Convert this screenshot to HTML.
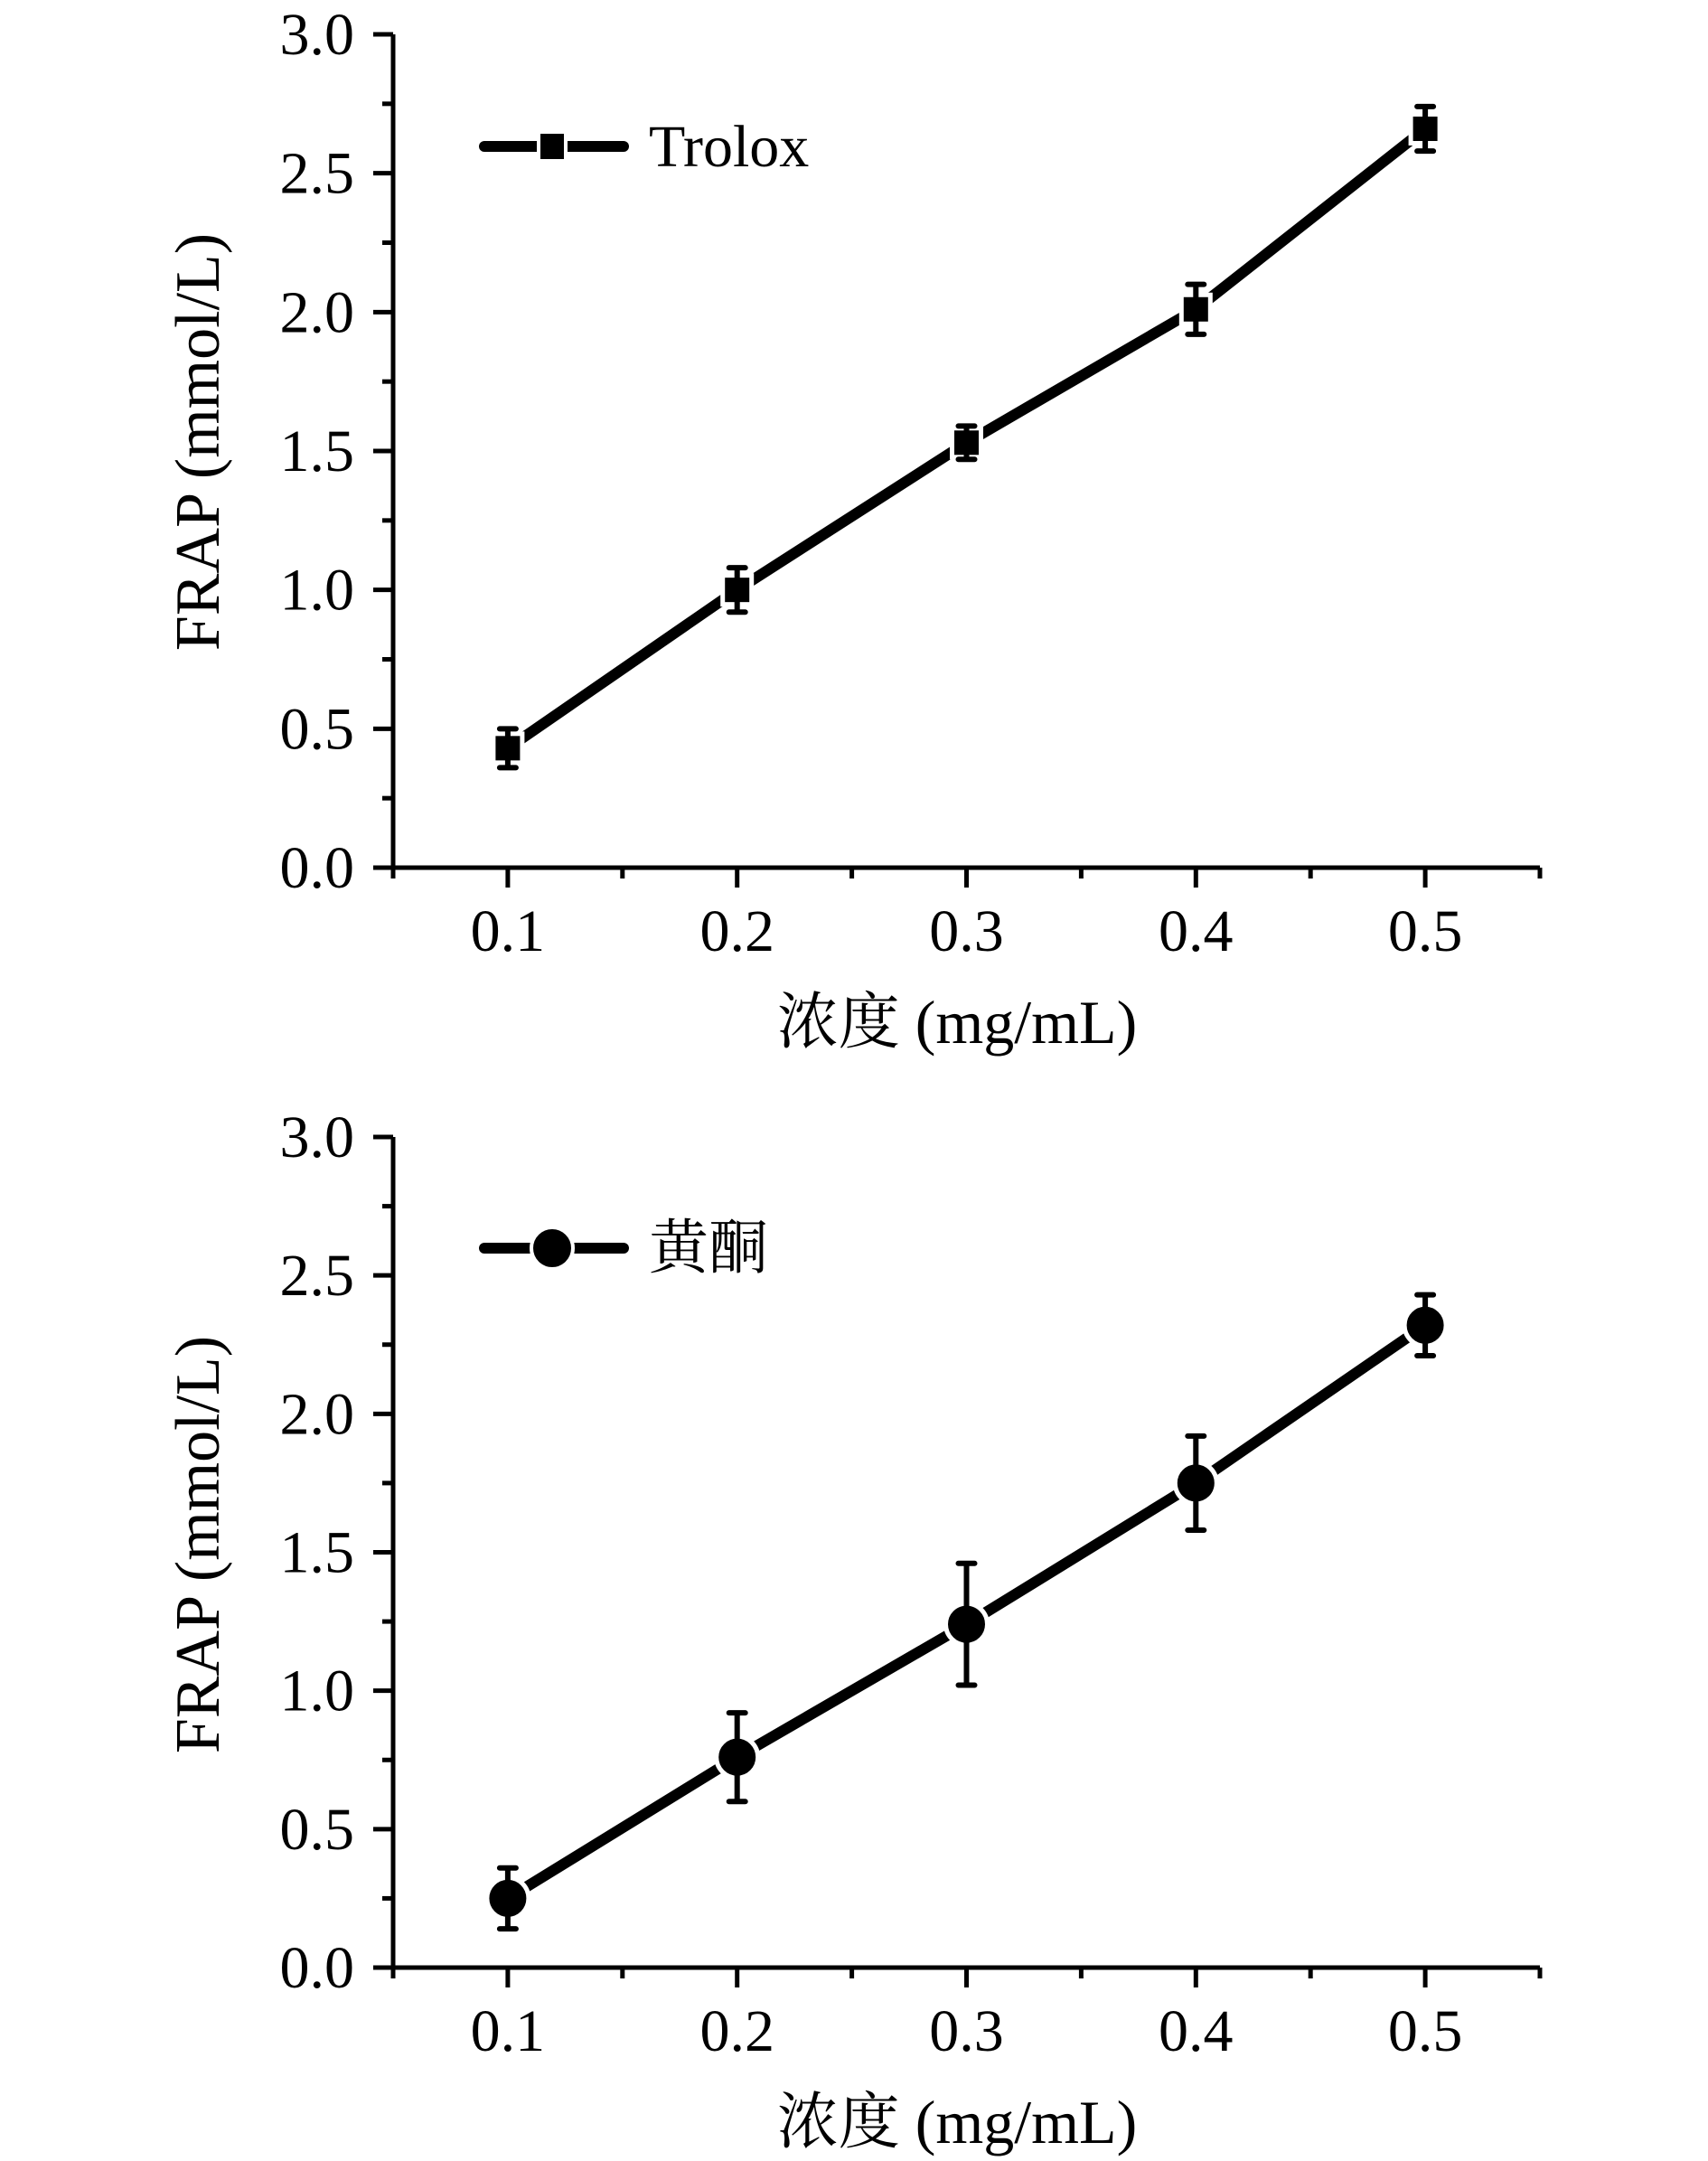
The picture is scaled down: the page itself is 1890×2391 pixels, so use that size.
<!DOCTYPE html>
<html><head><meta charset="utf-8">
<style>
html,body{margin:0;padding:0;background:#fff;}
svg{display:block;}
text{font-family:"Liberation Serif","Noto Serif CJK SC",serif;fill:#000;}
</style></head>
<body>
<svg id="chart" width="1890" height="2391" viewBox="0 0 1890 2391"></svg>
<script>
const categories = [0.1, 0.2, 0.3, 0.4, 0.5];
const xTickLabels = ["0.1", "0.2", "0.3", "0.4", "0.5"];
const yTickLabels = ["0.0", "0.5", "1.0", "1.5", "2.0", "2.5", "3.0"];
const troloxValues = [0.43, 1.00, 1.53, 2.01, 2.66];
const troloxErrors = [0.07, 0.08, 0.06, 0.09, 0.08];
const flavoneValues = [0.25, 0.76, 1.24, 1.75, 2.32];
const flavoneErrors = [0.11, 0.16, 0.22, 0.17, 0.11];

const NS = "http://www.w3.org/2000/svg";
const svg = document.getElementById("chart");
function mk(tag, attrs, parent) {
  const e = document.createElementNS(NS, tag);
  for (const k in attrs) e.setAttribute(k, attrs[k]);
  (parent || svg).appendChild(e);
  return e;
}

function drawPanel(cfg) {
  const g = mk("g", {});
  
  
  const x0 = 435, x1 = 1704, xmin = 0.05, xmax = 0.55;
  const yTop = cfg.yTop, yBot = cfg.yBot;
  const X = v => x0 + (v - xmin) / (xmax - xmin) * (x1 - x0);
  const Y = v => yBot - v / 3 * (yBot - yTop);

  const ax = mk("path", {d: `M${x0} ${yTop} V${yBot} H${x1}`, stroke: "#000", "stroke-width": 5, fill: "none"}, g);
  
  

  for (let i = 0; i <= 12; i++) {
    const v = i * 0.25, y = Y(v), major = i % 2 === 0;
    mk("line", {x1: x0 - (major ? 22 : 12), x2: x0, y1: y, y2: y, stroke: "#000", "stroke-width": 5}, g);
  }
  yTickLabels.forEach((t, i) => {
    const tx = mk("text", {x: 392, y: Y(i * 0.5) + 22, "font-size": 66, "text-anchor": "end"}, g);
    tx.textContent = t;
    
    
  });
  for (let i = 0; i <= 10; i++) {
    const v = 0.05 + i * 0.05, x = X(v), major = i % 2 === 1;
    mk("line", {x1: x, x2: x, y1: yBot, y2: yBot + (major ? 22 : 12), stroke: "#000", "stroke-width": 5}, g);
  }
  xTickLabels.forEach((t, i) => {
    const tx = mk("text", {x: X(categories[i]), y: yBot + 92, "font-size": 66, "text-anchor": "middle"}, g);
    tx.textContent = t;
    
    
  });
  const xt = mk("text", {x: 1059, y: yBot + 194, "font-size": 68, "text-anchor": "middle"}, g);
  xt.textContent = "浓度 (mg/mL)";
  
  
  const yt = mk("text", {x: 0, y: 0, "font-size": 70, "text-anchor": "middle", transform: `translate(242 ${cfg.yTitleC}) rotate(-90)`}, g);
  yt.textContent = "FRAP (mmol/L)";
  
  

  const pts = categories.map((c, i) => `${X(c)},${Y(cfg.values[i])}`).join(" ");
  const ln = mk("polyline", {points: pts, stroke: "#000", "stroke-width": 12, fill: "none", "stroke-linejoin": "round"}, g);
  
  

  categories.forEach((c, i) => {
    const cx = X(c), cy = Y(cfg.values[i]);
    let m;
    if (cfg.marker === "square") {
      m = mk("rect", {x: cx - 16, y: cy - 16, width: 32, height: 32, fill: "#000", stroke: "#fff", "stroke-width": 5}, g);
    } else {
      m = mk("circle", {cx: cx, cy: cy, r: 23, fill: "#000", stroke: "#fff", "stroke-width": 5}, g);
    }
    
    
    const e = cfg.errors[i], yh = Y(cfg.values[i] + e), yl = Y(cfg.values[i] - e);
    const eb = mk("path", {d: `M${cx} ${yh} V${yl} M${cx - 9} ${yh} H${cx + 9} M${cx - 9} ${yl} H${cx + 9}`, stroke: "#000", "stroke-width": 6, "stroke-linecap": "round", fill: "none"}, g);
    
    
  });

  const lg = mk("g", {}, g);
  
  
  const ly = cfg.legendY;
  mk("line", {x1: 536, x2: 690, y1: ly, y2: ly, stroke: "#000", "stroke-width": 12, "stroke-linecap": "round"}, lg);
  if (cfg.marker === "square") {
    mk("rect", {x: 596, y: ly - 16, width: 30, height: 32, fill: "#000", stroke: "#fff", "stroke-width": 4}, lg);
  } else {
    mk("circle", {cx: 611, cy: ly, r: 23, fill: "#000", stroke: "#fff", "stroke-width": 4}, lg);
  }
  const lt = mk("text", {x: 718, y: ly + 22, "font-size": 66}, lg);
  lt.textContent = cfg.label;
}

drawPanel({name: "trolox-chart", yTop: 38, yBot: 960, yTitleC: 489, values: troloxValues, errors: troloxErrors, marker: "square", label: "Trolox", legendY: 162});
drawPanel({name: "flavone-chart", yTop: 1258, yBot: 2177, yTitleC: 1709, values: flavoneValues, errors: flavoneErrors, marker: "circle", label: "黄酮", legendY: 1381});
</script>
</body></html>
